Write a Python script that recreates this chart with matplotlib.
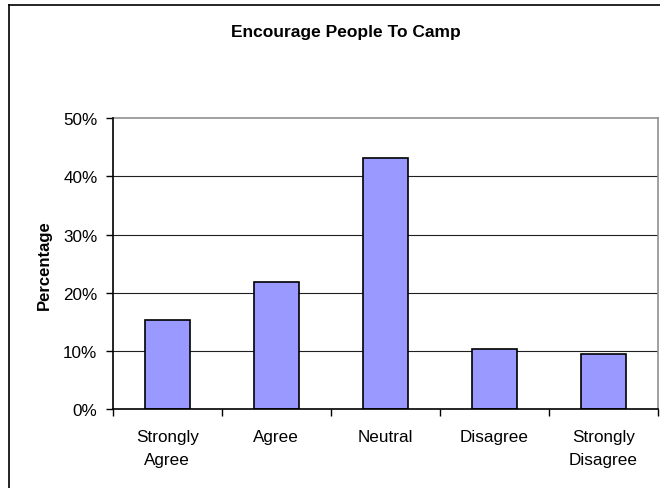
import matplotlib
matplotlib.use("Agg")
import matplotlib.pyplot as plt
from matplotlib.lines import Line2D
from matplotlib.ticker import FuncFormatter

categories = ["Strongly\nAgree", "Agree", "Neutral", "Disagree", "Strongly\nDisagree"]
percentages = [15.3, 21.9, 43.2, 10.3, 9.4]
y_ticks = [0, 10, 20, 30, 40, 50]

plt.rcParams["font.family"] = ["Liberation Sans", "DejaVu Sans"]

fig = plt.figure(figsize=(6.6, 4.89), dpi=100)
fig.patch.set_facecolor("white")

# chart frame (left and top edges)
fig.add_artist(Line2D([9 / 660, 9 / 660], [0, 1 - 6 / 489], transform=fig.transFigure,
                      color="black", lw=1.2))
fig.add_artist(Line2D([9 / 660, 1], [1 - 6 / 489, 1 - 6 / 489], transform=fig.transFigure,
                      color="black", lw=1.2))

ax = fig.add_axes([112.7 / 660, 1 - 410 / 489, (658 - 112.7) / 660, (410 - 119.3) / 489])

x = list(range(len(categories)))
ax.bar(x, percentages, width=0.41, color="#9999FF", edgecolor="black", linewidth=1.2, zorder=3)

ax.set_xlim(-0.5, len(categories) - 0.5)
ax.set_ylim(0, 50)
ax.set_yticks(y_ticks)
ax.yaxis.set_major_formatter(FuncFormatter(lambda v, p: f"{int(v)}%"))
ax.set_xticks([i - 0.5 for i in range(len(categories) + 1)], minor=False)
ax.set_xticklabels([])
ax.set_xticks(x, minor=True)
ax.set_xticklabels(categories, minor=True, fontsize=12.3, linespacing=1.62)
ax.tick_params(axis="x", which="minor", length=0, pad=14.5)
ax.tick_params(axis="x", which="major", length=5, width=1, color="black", direction="out")
ax.tick_params(axis="y", length=5, width=1, color="black", direction="out", pad=6, labelsize=12.3)

for v in y_ticks[1:-1]:
    ax.axhline(v, color="#202020", lw=0.8, zorder=1)

for side in ("top", "right"):
    ax.spines[side].set_color("#909090")
    ax.spines[side].set_linewidth(1.2)
for side in ("left", "bottom"):
    ax.spines[side].set_color("black")
    ax.spines[side].set_linewidth(1.2)
    ax.spines[side].set_zorder(4)

ax.set_ylabel("Percentage", fontsize=12, fontweight="bold")
ax.yaxis.set_label_coords((52 - 112.7) / (658 - 112.7), 0.5)

fig.text(346 / 660, 1 - 33 / 489, "Encourage People To Camp", ha="center", va="center",
         fontsize=12.5, fontweight="bold")

fig.savefig("out.png", dpi=100, facecolor="white")
